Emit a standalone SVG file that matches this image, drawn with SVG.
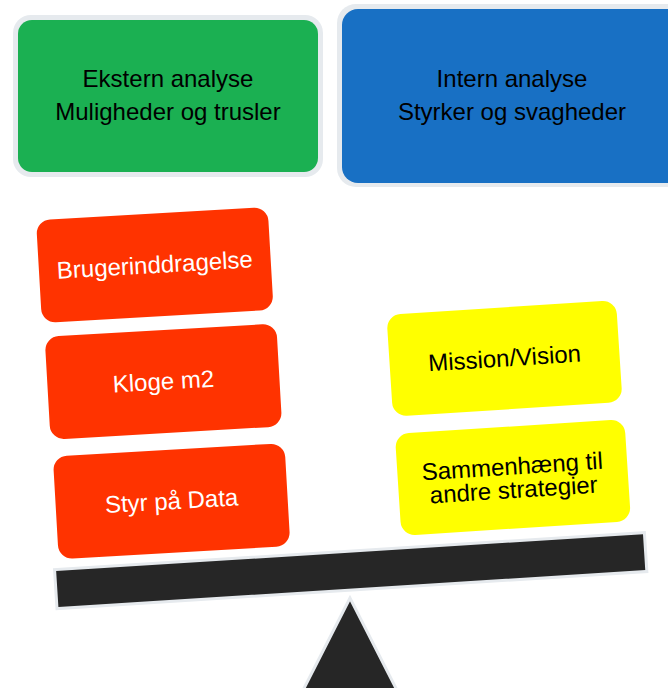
<svg xmlns="http://www.w3.org/2000/svg" width="668" height="688" viewBox="0 0 668 688">
<style>
  text { font-family: "Liberation Sans", Arial, sans-serif; font-size: 24px; text-anchor: middle; }
  .dark { fill: #000000; }
  .light { fill: #ffffff; }
  .halo { fill: #e6eaee; }
  .red { fill: #ff3300; }
  .yellow { fill: #ffff00; }
  .blk { fill: #262626; stroke: #e6eaee; stroke-width: 3; }
</style>
<rect x="0" y="0" width="668" height="688" fill="#ffffff"/>

<g id="ekstern">
  <rect class="halo" x="13" y="15" width="310" height="162" rx="18"/>
  <rect x="18" y="20" width="300" height="152" rx="14" fill="#1bb052"/>
  <text class="dark" x="168" y="87">Ekstern analyse</text>
  <text class="dark" x="168" y="120">Muligheder og trusler</text>
</g>

<g id="intern">
  <rect class="halo" x="337" y="4" width="350" height="183" rx="19"/>
  <rect x="342" y="9" width="340" height="174" rx="16" fill="#1870c4"/>
  <text class="dark" x="512" y="87">Intern analyse</text>
  <text class="dark" x="512" y="120">Styrker og svagheder</text>
</g>

<g id="brugerinddragelse" transform="translate(154.8,265) rotate(-3.3)">
  <rect class="red" x="-116" y="-51.5" width="232" height="103" rx="14"/>
  <text class="light" x="0" y="8">Brugerinddragelse</text>
</g>

<g id="kloge-m2" transform="translate(163.4,381.6) rotate(-3.3)">
  <rect class="red" x="-116" y="-51.5" width="232" height="103" rx="14"/>
  <text class="light" x="0" y="8">Kloge m2</text>
</g>

<g id="styr-paa-data" transform="translate(171.6,501.2) rotate(-3.3)">
  <rect class="red" x="-116" y="-51.5" width="232" height="103" rx="14"/>
  <text class="light" x="0" y="8">Styr på Data</text>
</g>

<g id="mission-vision" transform="translate(504.5,358.4) rotate(-3.7)">
  <rect class="yellow" x="-115" y="-51" width="230" height="102" rx="14"/>
  <text class="dark" x="0" y="8">Mission/Vision</text>
</g>

<g id="sammenhaeng" transform="translate(512.9,477.5) rotate(-3.7)">
  <rect class="yellow" x="-115" y="-51" width="230" height="102" rx="14"/>
  <text class="dark" x="0" y="-3">Sammenhæng til</text>
  <text class="dark" x="0" y="20.5">andre strategier</text>
</g>

<g id="vaegt">
  <polygon class="blk" points="350,598 294,708 406,708"/>
  <rect class="blk" transform="translate(350.7,570.6) rotate(-3.6)" x="-295.5" y="-19.5" width="591" height="39"/>
</g>
</svg>
